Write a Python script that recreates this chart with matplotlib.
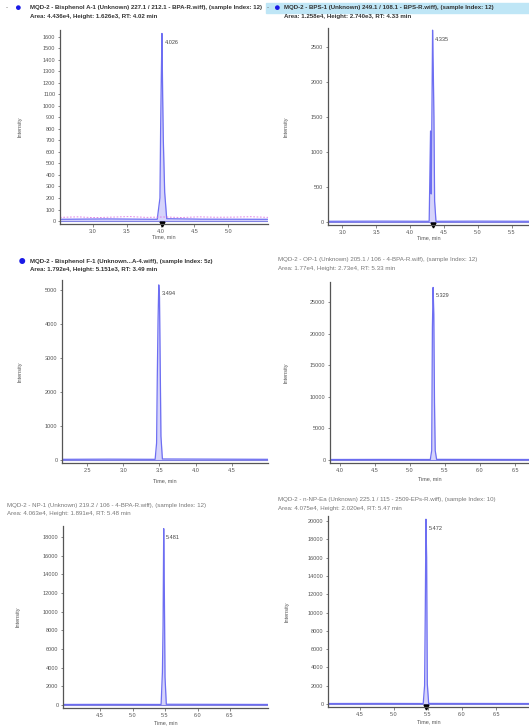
import matplotlib
matplotlib.use("Agg")
import matplotlib.pyplot as plt

W, H = 529, 727
plt.rcParams['font.family'] = ['Liberation Sans', 'DejaVu Sans']

# ---- data (time in min, intensity in cps) ----
p1_t = [2.52, 3.2, 3.95, 3.99, 4.00, 4.01, 4.02, 4.03, 4.04, 4.06, 4.09, 4.6, 5.58]
p1_y = [15, 18, 15, 200, 800, 1250, 1630, 1100, 700, 250, 20, 16, 15]
p1_base_y = [32, 36, 30, 34, 38, 32, 35, 31, 36, 33, 34, 37, 32]
p1_xticks = [3.0, 3.5, 4.0, 4.5, 5.0]
p1_yticks = list(range(0, 1700, 100))

p2_t = [2.8, 3.6, 4.28, 4.30, 4.31, 4.32, 4.33, 4.34, 4.35, 4.36, 4.38, 5.0, 5.75]
p2_y = [10, 12, 10, 1300, 400, 1500, 2740, 2200, 1500, 300, 10, 12, 10]
p2_xticks = [3.0, 3.5, 4.0, 4.5, 5.0, 5.5]
p2_yticks = [0, 500, 1000, 1500, 2000, 2500]

p3_t = [2.16, 2.8, 3.44, 3.46, 3.47, 3.48, 3.49, 3.50, 3.51, 3.52, 3.54, 4.3, 5.0]
p3_y = [20, 25, 20, 500, 2500, 4100, 5150, 4800, 2800, 700, 30, 25, 20]
p3_xticks = [2.5, 3.0, 3.5, 4.0, 4.5]
p3_yticks = [0, 1000, 2000, 3000, 4000, 5000]

p4_t = [3.86, 4.6, 5.29, 5.31, 5.32, 5.33, 5.34, 5.35, 5.36, 5.38, 6.0, 6.7]
p4_y = [80, 90, 80, 1500, 21000, 27300, 23000, 9000, 1500, 100, 90, 80]
p4_xticks = [4.0, 4.5, 5.0, 5.5, 6.0, 6.5]
p4_yticks = [0, 5000, 10000, 15000, 20000, 25000]

p5_t = [3.93, 4.7, 5.44, 5.46, 5.47, 5.48, 5.49, 5.50, 5.52, 6.3, 7.08]
p5_y = [60, 70, 60, 3500, 8500, 18900, 12000, 3000, 80, 70, 60]
p5_xticks = [4.5, 5.0, 5.5, 6.0, 6.5]
p5_yticks = list(range(0, 20000, 2000))

p6_t = [4.03, 4.8, 5.43, 5.45, 5.46, 5.47, 5.48, 5.49, 5.51, 6.2, 6.98]
p6_y = [50, 60, 50, 2000, 10000, 20200, 16000, 2200, 60, 55, 50]
p6_xticks = [4.5, 5.0, 5.5, 6.0, 6.5]
p6_yticks = list(range(0, 22000, 2000))

fig = plt.figure(figsize=(W / 100, H / 100), dpi=100)
fig.patch.set_facecolor("white")


def px_axes(x0, y0, x1, y1):
    return fig.add_axes([x0 / W, 1 - y1 / H, (x1 - x0) / W, (y1 - y0) / H])


def panel(box, t, y, xlim, ylim, xticks, yticks, peak_lbl, rt, header, bold, ylab_x, xlab_y,
          base=None, marker=True, dot=None, highlight=False):
    ax = px_axes(*box)
    ax.fill_between(t, y, color="#d6d4fb", lw=0)
    ax.plot(t, y, color="#6d6ef2", lw=0.9)
    if base is not None:
        bt = [xlim[0] + (xlim[1] - xlim[0]) * i / (len(base) - 1) for i in range(len(base))]
        ax.plot(bt, base, color="#e070e0", lw=0.6, ls=(0, (2, 2)))
    ax.axhline(0, color="#3a3ad0", lw=0.8, alpha=0.6)
    ax.set_xlim(*xlim)
    ax.set_ylim(*ylim)
    ax.set_xticks(xticks)
    ax.set_xticklabels([f"{v:.1f}" for v in xticks])
    ax.set_yticks(yticks)
    ax.set_yticklabels([str(v) for v in yticks])
    ax.tick_params(labelsize=4.0, length=1.8, width=0.5, pad=1.5, colors="#555555")
    for s in ("top", "right"):
        ax.spines[s].set_visible(False)
    for s in ("left", "bottom"):
        ax.spines[s].set_color("#555555")
        ax.spines[s].set_linewidth(0.9)
    pk = max(y)
    ax.text(rt + (xlim[1] - xlim[0]) * 0.012, pk * 0.965, peak_lbl, fontsize=4.0,
            color="#444444", va="top")
    if marker:
        ax.plot([rt], [ylim[0]], marker="v", color="black", ms=3.5, clip_on=False)
    fig.text(ylab_x / W, 1 - (box[1] + box[3]) / 2 / H, "Intensity", rotation=90,
             fontsize=4.0, color="#555555", ha="center", va="center")
    fig.text((box[0] + box[2]) / 2 / W, 1 - xlab_y / H, "Time, min", fontsize=4.0,
             color="#555555", ha="center", va="center")
    hx, hy = header[0], header[1]
    if highlight:
        fig.patches.append(plt.Rectangle(((hx - 18) / W, 1 - (hy + 5) / H),
                                         (W - hx + 18) / W, 10 / H, transform=fig.transFigure,
                                         color="#bfe6f6", zorder=0))
    if dot is not None:
        fig.text(dot[0] / W, 1 - dot[1] / H, "\u25cf", fontsize=dot[2], color="#1a1ae6",
                 ha="center", va="center")
    fw = "bold" if bold else "normal"
    col = "#333333" if bold else "#777777"
    fig.text(hx / W, 1 - hy / H, header[2], fontsize=4.4, fontweight=fw, color=col,
             va="center", ha="left")
    fig.text(hx / W, 1 - (hy + 8.5) / H, header[3], fontsize=4.4, fontweight=fw, color=col,
             va="center", ha="left")
    return ax


panel((60, 30, 268, 224), p1_t, p1_y, (2.51, 5.59), (-26, 1660), p1_xticks, p1_yticks,
      "4.026", 4.02,
      (30, 8, "MQD-2 - Bisphenol A-1 (Unknown) 227.1 / 212.1 - BPA-R.wiff), (sample Index: 12)",
       "Area: 4.436e4, Height: 1.626e3, RT: 4.02 min"),
      True, 20, 237, base=p1_base_y, dot=(17, 8, 8))
fig.text(6 / W, 1 - 8 / H, "-", fontsize=4.5, color="#555555", va="center")

panel((328, 28, 529, 225), p2_t, p2_y, (2.79, 5.75), (-43, 2771), p2_xticks, p2_yticks,
      "4.335", 4.33,
      (284, 8, "MQD-2 - BPS-1 (Unknown) 249.1 / 108.1 - BPS-R.wiff), (sample Index: 12)",
       "Area: 1.258e4, Height: 2.740e3, RT: 4.33 min"),
      True, 286, 238, dot=(276, 8, 8), highlight=True)
fig.text(267 / W, 1 - 8 / H, "-", fontsize=4.5, color="#555555", va="center")

panel((62, 280, 268, 463), p3_t, p3_y, (2.155, 4.997), (-88, 5294), p3_xticks, p3_yticks,
      "3.494", 3.49,
      (30, 261, "MQD-2 - Bisphenol F-1 (Unknown...A-4.wiff), (sample Index: 5z)",
       "Area: 1.792e4, Height: 5.151e3, RT: 3.49 min"),
      True, 20, 481, marker=False, dot=(22, 261, 10))

panel((330, 282, 529, 463), p4_t, p4_y, (3.857, 6.7), (-475, 28160), p4_xticks, p4_yticks,
      "5.329", 5.33,
      (278, 260, "MQD-2 - OP-1 (Unknown) 205.1 / 106 - 4-BPA-R.wiff), (sample Index: 12)",
       "Area: 1.77e4, Height: 2.73e4, RT: 5.33 min"),
      False, 286, 479, marker=False)

panel((63, 526, 268, 708), p5_t, p5_y, (3.93, 7.085), (-320, 19180), p5_xticks, p5_yticks,
      "5.481", 5.48,
      (7, 505, "MQD-2 - NP-1 (Unknown) 219.2 / 106 - 4-BPA-R.wiff), (sample Index: 12)",
       "Area: 4.063e4, Height: 1.891e4, RT: 5.48 min"),
      False, 18, 723, marker=False)

panel((328, 516, 529, 707), p6_t, p6_y, (4.03, 6.985), (-330, 20550), p6_xticks, p6_yticks,
      "5.472", 5.47,
      (278, 500, "MQD-2 - n-NP-Ea (Unknown) 225.1 / 115 - 2509-EPs-R.wiff), (sample Index: 10)",
       "Area: 4.075e4, Height: 2.020e4, RT: 5.47 min"),
      False, 287, 722)

fig.savefig("out.png", dpi=100)
